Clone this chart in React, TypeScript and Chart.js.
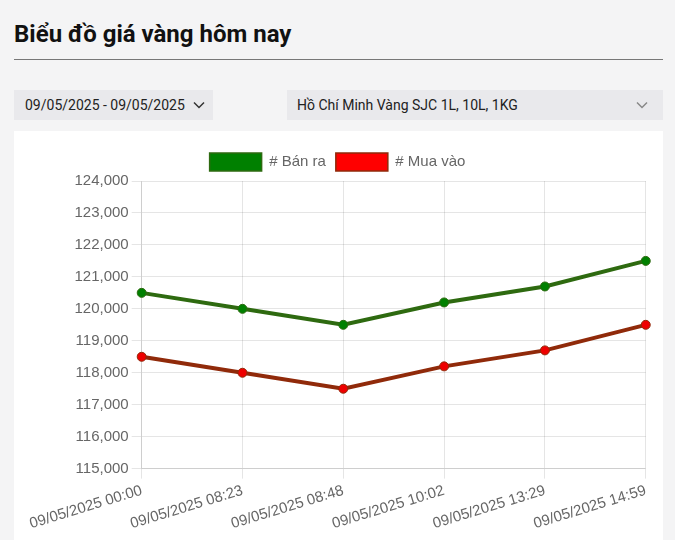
import React, { useEffect, useRef } from "react";
import { Chart, registerables } from "chart.js";

Chart.register(...registerables);

const title = "Biểu đồ giá vàng hôm nay";
const dateRange = "09/05/2025 - 09/05/2025";
const productLabel = "Hồ Chí Minh Vàng SJC 1L, 10L, 1KG";

const categories = [
  "09/05/2025 00:00",
  "09/05/2025 08:23",
  "09/05/2025 08:48",
  "09/05/2025 10:02",
  "09/05/2025 13:29",
  "09/05/2025 14:59",
];
const sellLabel = "# Bán ra";
const buyLabel = "# Mua vào";
const sellValues = [120500, 120000, 119500, 120200, 120700, 121500];
const buyValues = [118500, 118000, 117500, 118200, 118700, 119500];
const yMin = 115000;
const yMax = 124000;
const yStep = 1000;

const Chevron = ({ color }: { color: string }) => (
  <svg width="12" height="8" viewBox="0 0 12 8" style={{ display: "block" }}>
    <path d="M1 1.5 L6 6.5 L11 1.5" fill="none" stroke={color} strokeWidth="1.5" />
  </svg>
);

export default function App() {
  const canvasRef = useRef<HTMLCanvasElement | null>(null);

  useEffect(() => {
    if (!canvasRef.current) return;
    const font = { family: "'Liberation Sans', Arial, sans-serif", size: 15 };
    const chart = new Chart(canvasRef.current, {
      type: "line",
      data: {
        labels: categories,
        datasets: [
          {
            label: sellLabel,
            data: sellValues,
            borderColor: "#2e6a10",
            backgroundColor: "#008000",
            borderWidth: 4,
            pointRadius: 4.5,
            pointBorderWidth: 1,
            pointBackgroundColor: "#008000",
            pointBorderColor: "#2e6a10",
            tension: 0,
          },
          {
            label: buyLabel,
            data: buyValues,
            borderColor: "#902a0a",
            backgroundColor: "#ff0000",
            borderWidth: 4,
            pointRadius: 4.5,
            pointBorderWidth: 1,
            pointBackgroundColor: "#ee0000",
            pointBorderColor: "#902a0a",
            tension: 0,
          },
        ],
      },
      options: {
        animation: false,
        responsive: false,
        maintainAspectRatio: false,
        layout: { padding: { right: 6 } },
        plugins: {
          legend: {
            position: "top",
            labels: {
              font,
              color: "#666",
              boxWidth: 52,
              boxHeight: 18,
              generateLabels: (c: any) =>
                Chart.defaults.plugins.legend.labels
                  .generateLabels(c)
                  .map((l: any) => ({ ...l, lineWidth: 1.5 })),
            },
          },
          tooltip: { enabled: false },
        },
        scales: {
          x: {
            ticks: {
              font,
              color: "#666",
              minRotation: 17,
              maxRotation: 17,
              autoSkip: false,
            },
            grid: { color: "rgba(0,0,0,0.1)", tickLength: 10 },
          },
          y: {
            min: yMin,
            max: yMax,
            ticks: {
              font,
              color: "#666",
              stepSize: yStep,
              callback: (v: any) => Number(v).toLocaleString("en-US"),
            },
            grid: { color: "rgba(0,0,0,0.1)", tickLength: 10 },
          },
        },
      },
    });
    return () => chart.destroy();
  }, []);

  return (
    <div
      style={{
        position: "fixed",
        inset: 0,
        background: "#f4f4f5",
        overflow: "hidden",
        fontFamily: "Roboto, sans-serif",
      }}
    >
      <div
        style={{
          position: "absolute",
          left: 14,
          top: 19,
          fontSize: 24,
          fontWeight: 700,
          color: "#111",
          lineHeight: "30px",
        }}
      >
        {title}
      </div>
      <div
        style={{
          position: "absolute",
          left: 14,
          top: 59,
          width: 649,
          height: 1,
          background: "#777",
        }}
      />
      <div
        style={{
          position: "absolute",
          left: 14,
          top: 90,
          width: 199,
          height: 30,
          background: "#e9e9ec",
          display: "flex",
          alignItems: "center",
          fontSize: 14,
          color: "#222",
        }}
      >
        <span style={{ marginLeft: 11 }}>{dateRange}</span>
        <span style={{ marginLeft: 8 }}>
          <Chevron color="#333" />
        </span>
      </div>
      <div
        style={{
          position: "absolute",
          left: 287,
          top: 90,
          width: 376,
          height: 30,
          background: "#e9e9ec",
          display: "flex",
          alignItems: "center",
          justifyContent: "space-between",
          fontSize: 14,
          color: "#222",
        }}
      >
        <span style={{ marginLeft: 10 }}>{productLabel}</span>
        <span style={{ marginRight: 15 }}>
          <Chevron color="#888" />
        </span>
      </div>
      <div
        style={{
          position: "absolute",
          left: 14,
          top: 131,
          width: 649,
          height: 420,
          background: "#fff",
        }}
      >
        <canvas
          ref={canvasRef}
          width={627}
          height={393}
          style={{ position: "absolute", left: 13, top: 12, width: 627, height: 393 }}
        />
      </div>
    </div>
  );
}
